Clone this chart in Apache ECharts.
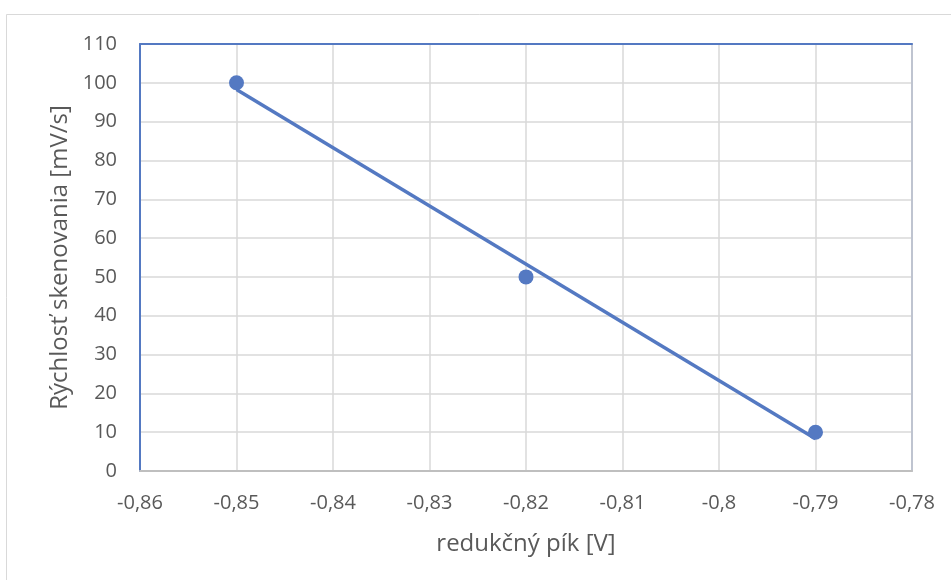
<!DOCTYPE html>
<html>
<head>
<meta charset="utf-8">
<script src="https://cdn.jsdelivr.net/npm/echarts@6/dist/echarts.min.js"></script>
<style>
  html, body { margin: 0; padding: 0; background: #fff; }
  #chart { width: 951px; height: 580px; }
</style>
</head>
<body>
<div id="chart"></div>
<script>
// namerané body
const peakPotential = [-0.85, -0.82, -0.79];
const scanRate = [100, 50, 10];
// lineárny trend (odčítané z grafu)
const trendX = [-0.85, -0.79];
const trendY = [98.3, 8.3];

const xName = 'redukčný pík [V]';
const yName = 'Rýchlosť skenovania [mV/s]';

const blue = '#5479c2';
const labelColor = '#595959';
const fontFamily = '"Open Sans", "Liberation Sans", sans-serif';

function fmt(v) {
  return String(Math.round(v * 100) / 100).replace('.', ',');
}

const myChart = echarts.init(document.getElementById('chart'));
const option = {
  animation: false,
  backgroundColor: '#fff',
  graphic: [
    {
      type: 'rect',
      shape: { x: 6.5, y: 14.5, width: 960, height: 600 },
      style: { fill: 'none', stroke: '#d9d9d9', lineWidth: 1 },
      silent: true,
    },
  ],
  grid: { left: 140, right: 39, top: 44, bottom: 109 },
  xAxis: [
    {
      type: 'value',
      min: -0.86,
      max: -0.78,
      interval: 0.01,
      name: xName,
      nameLocation: 'middle',
      nameGap: 61,
      nameTextStyle: { color: labelColor, fontSize: 24, fontFamily: fontFamily },
      axisLine: { show: true, onZero: false, lineStyle: { color: '#bfbfbf', width: 2 } },
      axisTick: { show: false },
      axisLabel: { color: labelColor, fontSize: 20, fontFamily: fontFamily, margin: 22, formatter: fmt },
      splitLine: { show: true, lineStyle: { color: '#d9d9d9', width: 1.5 } },
    },
    {
      type: 'value',
      position: 'top',
      min: -0.86,
      max: -0.78,
      interval: 0.01,
      axisLine: { show: true, onZero: false, lineStyle: { color: blue, width: 2 } },
      axisTick: { show: false },
      axisLabel: { show: false },
      splitLine: { show: false },
    },
  ],
  yAxis: [
    {
      type: 'value',
      min: 0,
      max: 110,
      interval: 10,
      name: yName,
      nameLocation: 'middle',
      nameGap: 68,
      nameTextStyle: { color: labelColor, fontSize: 24, fontFamily: fontFamily },
      axisLine: { show: true, onZero: false, lineStyle: { color: blue, width: 2 } },
      axisTick: { show: false },
      axisLabel: { color: labelColor, fontSize: 20, fontFamily: fontFamily, margin: 23 },
      splitLine: { show: true, lineStyle: { color: '#d9d9d9', width: 1.5 } },
    },
    {
      type: 'value',
      position: 'right',
      min: 0,
      max: 110,
      interval: 10,
      axisLine: { show: true, onZero: false, lineStyle: { color: '#bfc4d0', width: 2 } },
      axisTick: { show: false },
      axisLabel: { show: false },
      splitLine: { show: false },
    },
  ],
  series: [
    {
      name: 'trend',
      type: 'line',
      data: trendX.map((x, i) => [x, trendY[i]]),
      showSymbol: false,
      symbol: 'none',
      lineStyle: { color: blue, width: 3.5 },
      z: 2,
    },
    {
      name: 'body',
      type: 'scatter',
      data: peakPotential.map((x, i) => [x, scanRate[i]]),
      symbolSize: 15,
      itemStyle: { color: blue, opacity: 1 },
      z: 3,
    },
  ],
};
myChart.setOption(option);
</script>
</body>
</html>
